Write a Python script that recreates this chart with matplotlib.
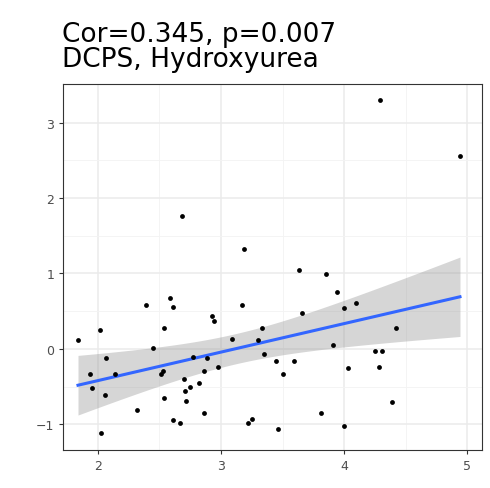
import numpy as np
import matplotlib
matplotlib.use("Agg")
import matplotlib.pyplot as plt

x = [1.84,1.94,1.95,2.02,2.07,2.06,2.03,2.14,2.32,2.39,2.45,2.51,2.53,2.54,2.54,2.59,2.61,2.61,2.67,2.68,
     2.70,2.71,2.75,2.77,2.72,2.82,2.86,2.86,2.89,2.93,2.94,2.98,3.09,3.17,3.19,3.22,3.25,3.30,3.33,3.35,
     3.45,3.46,3.50,3.59,3.63,3.66,3.81,3.85,3.91,3.94,4.00,4.00,4.03,4.10,4.25,4.29,4.28,4.31,4.39,4.42,4.94]
y = [0.12,-0.34,-0.52,0.25,-0.12,-0.61,-1.11,-0.33,-0.81,0.58,0.01,-0.33,-0.30,0.28,-0.65,0.68,0.56,-0.95,-0.98,1.76,
     -0.40,-0.56,-0.50,-0.11,-0.69,-0.45,-0.30,-0.85,-0.12,0.44,0.37,-0.24,0.13,0.58,1.32,-0.98,-0.93,0.12,0.28,-0.07,
     -0.16,-1.06,-0.33,-0.16,1.05,0.48,-0.85,0.99,0.05,0.75,0.54,-1.02,-0.25,0.61,-0.03,3.30,-0.24,-0.03,-0.70,0.28,2.56]
title = "Cor=0.345, p=0.007\nDCPS, Hydroxyurea"

x = np.array(x); y = np.array(y)
n = len(x)
b, a = np.polyfit(x, y, 1)
xs = np.linspace(x.min(), x.max(), 100)
ys = a + b*xs
res = y - (a + b*x)
s = np.sqrt(np.sum(res**2)/(n-2))
se = s*np.sqrt(1/n + (xs-x.mean())**2/np.sum((x-x.mean())**2))
t = 2.0
fig = plt.figure(figsize=(4.9, 4.89), dpi=100)
ax = fig.add_axes([0.129, 0.078, 0.855, 0.748])
ax.set_facecolor("white")
ax.fill_between(xs, ys-t*se, ys+t*se, color="#999999", alpha=0.4, lw=0, zorder=2)
ax.plot(xs, ys, color="#3366FF", lw=2.2, zorder=3)
ax.scatter(x, y, s=12, color="black", zorder=4, lw=0)
ax.set_xlim(1.72, 5.12); ax.set_ylim(-1.34, 3.51)
ax.set_xticks([2,3,4,5]); ax.set_yticks([-1,0,1,2,3])
ax.set_xticks([2.5,3.5,4.5], minor=True); ax.set_yticks([-0.5,0.5,1.5,2.5], minor=True)
ax.grid(True, which="major", color="#EBEBEB", lw=1.1)
ax.grid(True, which="minor", color="#F3F3F3", lw=0.6)
ax.set_axisbelow(True)
for sp in ax.spines.values():
    sp.set_color("#333333"); sp.set_linewidth(0.8)
ax.tick_params(which="major", colors="#333333", labelcolor="#4D4D4D", labelsize=9, length=3)
ax.tick_params(which="minor", length=0)
fig.text(0.127, 0.903, title, fontsize=19, va="center", ha="left", linespacing=0.95)
fig.savefig("out.png", dpi=100)
